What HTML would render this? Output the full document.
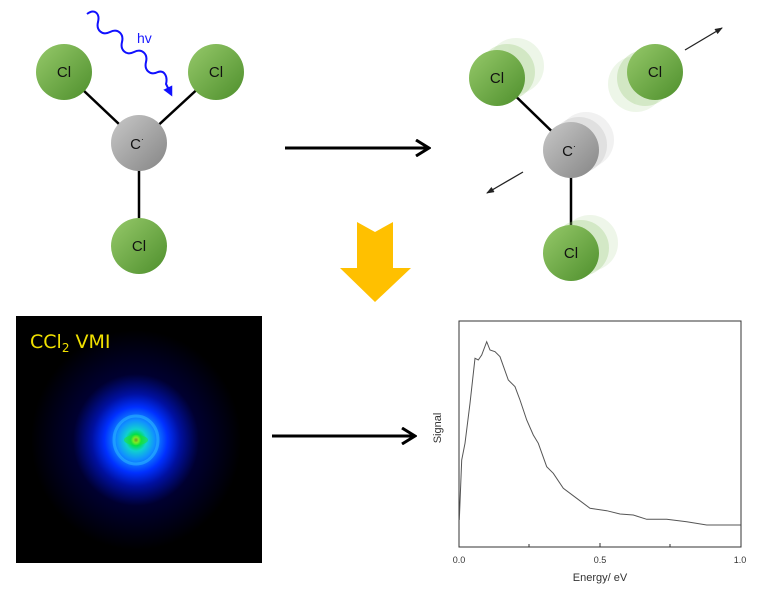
<!DOCTYPE html>
<html><head><meta charset="utf-8"><style>
html,body{margin:0;padding:0;background:#fff;}
svg{display:block;font-family:"Liberation Sans",sans-serif;}
</style></head><body>
<svg width="772" height="600" viewBox="0 0 772 600" xmlns="http://www.w3.org/2000/svg">
<defs>
<linearGradient id="g" x1="0" y1="0" x2="1" y2="1"><stop offset="0" stop-color="#96c96a"/><stop offset="1" stop-color="#4e8f2c"/></linearGradient>
<linearGradient id="c" x1="0" y1="0" x2="1" y2="1"><stop offset="0" stop-color="#c8c8c8"/><stop offset="1" stop-color="#858585"/></linearGradient>
<radialGradient id="v" cx="0.5" cy="0.5" r="0.5">
<stop offset="0" stop-color="#ff2000"/><stop offset="0.025" stop-color="#ffff00"/><stop offset="0.05" stop-color="#00e040"/><stop offset="0.1" stop-color="#10d0d0"/><stop offset="0.18" stop-color="#1090ff"/><stop offset="0.3" stop-color="#0030ff"/><stop offset="0.42" stop-color="#0010a0"/><stop offset="0.6" stop-color="#000030"/><stop offset="1" stop-color="#000"/></radialGradient>
<marker id="ah" markerWidth="16" markerHeight="18" refX="13" refY="9" orient="auto" markerUnits="userSpaceOnUse"><path d="M1,1 L14,9 L1,17" fill="none" stroke="#000" stroke-width="3"/></marker>
<marker id="sa" markerWidth="8" markerHeight="6" refX="7" refY="3" orient="auto" markerUnits="userSpaceOnUse"><path d="M0,0 L8,3 L0,6z" fill="#222"/></marker>
<marker id="ba" markerWidth="10" markerHeight="10" refX="5" refY="5" orient="auto" markerUnits="userSpaceOnUse"><path d="M0,0 L10,5 L0,10z" fill="#1010ff"/></marker>
</defs>
<!-- left molecule -->
<g stroke="#000" stroke-width="2.5"><line x1="64" y1="72" x2="139" y2="143"/><line x1="216" y1="72" x2="139" y2="143"/><line x1="139" y1="143" x2="139" y2="246"/></g>
<circle cx="64" cy="72" r="28" fill="url(#g)"/><circle cx="216" cy="72" r="28" fill="url(#g)"/><circle cx="139" cy="246" r="28" fill="url(#g)"/>
<circle cx="139" cy="143" r="28" fill="url(#c)"/>
<g font-size="15" fill="#111" text-anchor="middle"><text x="64" y="77">Cl</text><text x="216" y="77">Cl</text><text x="139" y="251">Cl</text><text x="137" y="149">C<tspan font-size="9" dy="-7">·</tspan></text></g>
<path d="M87,14 C95,8 100,14 98,22 C96,30 102,36 110,32 C118,28 124,34 122,42 C120,50 126,56 134,52 C142,48 148,54 146,62 C144,70 150,76 158,72 C164,70 168,76 166,84 L170,92" fill="none" stroke="#1010ff" stroke-width="2" marker-end="url(#ba)"/>
<text x="137" y="43" font-size="14" fill="#1a1aff">hv</text>
<!-- middle arrow -->
<line x1="285" y1="148" x2="428" y2="148" stroke="#000" stroke-width="3" marker-end="url(#ah)"/>
<polygon points="357,222 375,232 393,222 393,268 411,268 375,302 340,268 357,268" fill="#ffc000"/>
<!-- right molecule -->
<g stroke="#000" stroke-width="2.5"><line x1="497" y1="78" x2="571" y2="150"/><line x1="571" y1="150" x2="571" y2="253"/></g>
<g fill="#8fc46a" opacity="0.15"><circle cx="516" cy="66" r="28"/><circle cx="636" cy="84" r="28"/><circle cx="590" cy="243" r="28"/></g>
<g fill="#8fc46a" opacity="0.28"><circle cx="507" cy="72" r="28"/><circle cx="645" cy="78" r="28"/><circle cx="581" cy="248" r="28"/></g>
<circle cx="586" cy="140" r="28" fill="#e4e4e4" opacity="0.5"/><circle cx="579" cy="145" r="28" fill="#cfcfcf" opacity="0.5"/>
<circle cx="497" cy="78" r="28" fill="url(#g)"/><circle cx="655" cy="72" r="28" fill="url(#g)"/><circle cx="571" cy="253" r="28" fill="url(#g)"/>
<circle cx="571" cy="150" r="28" fill="url(#c)"/>
<g font-size="15" fill="#111" text-anchor="middle"><text x="497" y="83">Cl</text><text x="655" y="77">Cl</text><text x="571" y="258">Cl</text><text x="569" y="156">C<tspan font-size="9" dy="-7">·</tspan></text></g>
<line x1="685" y1="50" x2="722" y2="28" stroke="#222" stroke-width="1.3" marker-end="url(#sa)"/>
<line x1="523" y1="172" x2="487" y2="193" stroke="#222" stroke-width="1.3" marker-end="url(#sa)"/>
<!-- VMI -->
<rect x="16" y="316" width="246" height="247" fill="#000"/>
<ellipse cx="136" cy="440" rx="105" ry="110" fill="url(#v)"/>
<ellipse cx="136" cy="440" rx="22" ry="24" fill="none" stroke="#30c0ff" stroke-width="3" opacity="0.5"/>
<ellipse cx="136" cy="440" rx="12" ry="5" fill="#20e040" opacity="0.6"/>
<text x="30" y="348" font-size="19" fill="#f0e000" font-family="'DejaVu Sans',sans-serif">CCl<tspan font-size="12" dy="4">2</tspan><tspan dy="-4"> VMI</tspan></text>
<line x1="272" y1="436" x2="414" y2="436" stroke="#000" stroke-width="3" marker-end="url(#ah)"/>
<!-- plot -->
<rect x="459" y="321" width="282" height="226" fill="none" stroke="#333" stroke-width="1"/>
<g stroke="#333"><line x1="529" y1="547" x2="529" y2="544"/><line x1="600" y1="547" x2="600" y2="543"/><line x1="670" y1="547" x2="670" y2="544"/></g>
<polyline fill="none" stroke="#555" stroke-width="1" points="459.3,520 461.7,460 465,443.3 470,403.3 475,358.3 478.3,360 481.7,355 486.7,341.7 490,350 495,351.7 500,356.7 508.3,380 515,386.7 520,400 526.7,420 533.3,435 538.3,443.3 546.7,466.7 553.3,473.3 563.3,488.3 576.7,498.3 590,508.3 606.7,510.7 620,514 633.3,515 646.7,519.3 666.7,519.3 686.7,521.7 706.7,525 740.7,525"/>
<g font-size="9" fill="#333" text-anchor="middle"><text x="459" y="563">0.0</text><text x="600" y="563">0.5</text><text x="740" y="563">1.0</text></g>
<text x="600" y="581" font-size="11" fill="#333" text-anchor="middle">Energy/ eV</text>
<text transform="translate(441,428) rotate(-90)" font-size="11" fill="#333" text-anchor="middle">Signal</text>
</svg>
</body></html>
